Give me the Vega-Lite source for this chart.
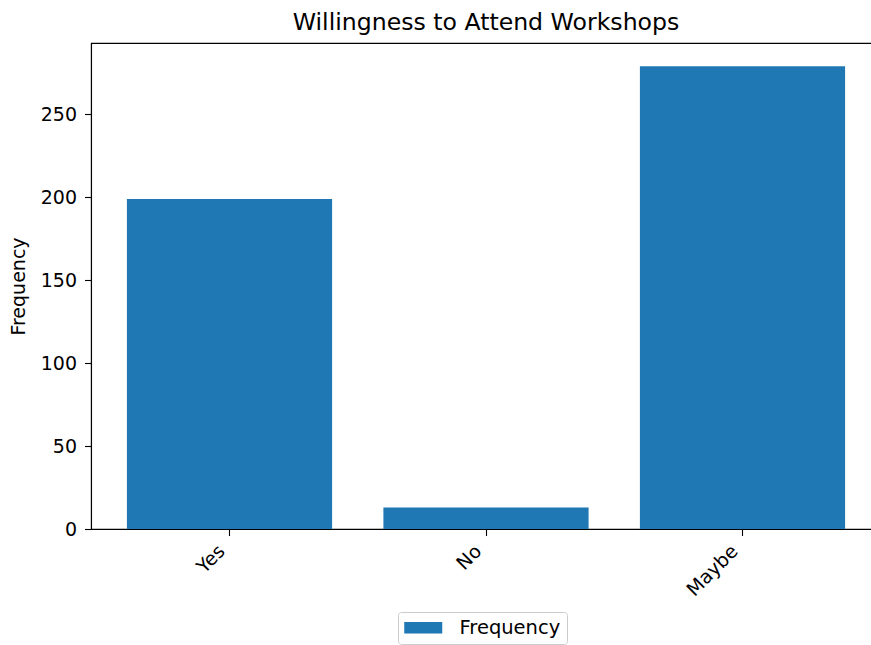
{
  "$schema": "https://vega.github.io/schema/vega-lite/v6.json",
  "autosize": {"type": "none"},
  "padding": {"left": 91, "top": 43, "right": 0, "bottom": 116},
  "width": 790,
  "height": 486,
  "background": "white",
  "title": {"text": "Willingness to Attend Workshops", "font": "DejaVu Sans", "fontSize": 23.6, "fontWeight": "normal", "color": "black", "anchor": "middle", "offset": 8},
  "config": {
    "view": {"stroke": "black", "strokeWidth": 1.1},
    "axis": {"domainColor": "black", "domainWidth": 1.1, "tickColor": "black", "tickWidth": 1.1, "tickSize": 6.5, "labelColor": "black", "labelFont": "DejaVu Sans", "labelFontSize": 19, "labelPadding": 8, "grid": false, "titleFont": "DejaVu Sans", "titleFontSize": 19, "titleFontWeight": "normal", "titleColor": "black"}
  },
  "data": {"values": [
    {"Response": "Yes", "Count": 199},
    {"Response": "No", "Count": 13},
    {"Response": "Maybe", "Count": 279}
  ]},
  "mark": {"type": "bar"},
  "encoding": {
    "x": {"field": "Response", "type": "nominal", "sort": null,
      "scale": {"paddingInner": 0.2, "paddingOuter": 0.14},
      "axis": {"title": null, "labelAngle": -45, "labelAlign": "right", "labelBaseline": "top", "labelOffset": -14, "labelPadding": 6}},
    "y": {"field": "Count", "type": "quantitative",
      "scale": {"domain": [0, 293], "nice": false, "zero": true},
      "axis": {"title": "Frequency", "values": [0, 50, 100, 150, 200, 250], "titlePadding": 12}},
    "color": {"datum": "Frequency", "type": "nominal",
      "scale": {"range": ["#1f77b4"]},
      "legend": {"title": null, "orient": "none", "legendX": 307, "legendY": 569,
        "symbolType": "M-1,-0.6H3V0.6H-1Z", "symbolSize": 361, "symbolStrokeWidth": 0, "symbolOpacity": 1,
        "labelFont": "DejaVu Sans", "labelFontSize": 19.5, "labelColor": "black", "labelOffset": 36,
        "padding": 6, "strokeColor": "#cccccc", "fillColor": "white", "cornerRadius": 3}}
  }
}
